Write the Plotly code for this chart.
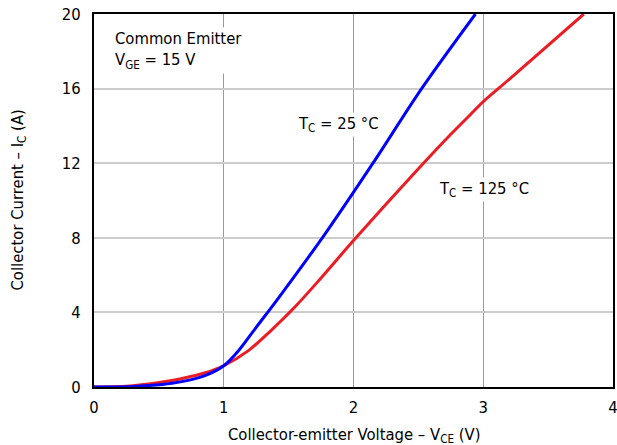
import plotly.graph_objects as go

# Data
vce_25 = [0, 0.3, 0.6, 0.85, 1.0, 1.12, 1.25, 1.43, 1.78, 2.15, 2.525, 2.94]
ic_25 = [0, 0.03, 0.2, 0.6, 1.14, 2.0, 3.2, 4.85, 8.2, 12.0, 16.0, 20.0]

vce_125 = [0, 0.3, 0.6, 0.85, 1.0, 1.19, 1.36, 1.55, 1.75, 2.0, 2.5, 2.75, 2.9, 3.0, 3.2, 3.775]
ic_125 = [0, 0.07, 0.35, 0.75, 1.14, 1.95, 3.0, 4.3, 5.85, 7.85, 11.7, 13.55, 14.6, 15.3, 16.5, 20.0]

x_ticks = [0, 1, 2, 3, 4]
y_ticks = [0, 4, 8, 12, 16, 20]

FONT = "DejaVu Sans Condensed, Liberation Sans Narrow, Roboto, sans-serif"
FS = 16.5

fig = go.Figure()
fig.add_trace(go.Scatter(x=vce_125, y=ic_125, mode="lines",
                         line=dict(color="#ec1c24", width=3, shape="spline", smoothing=0.9), showlegend=False))
fig.add_trace(go.Scatter(x=vce_25, y=ic_25, mode="lines",
                         line=dict(color="#0000ff", width=3, shape="spline", smoothing=0.9), showlegend=False))

fig.update_layout(
    width=617, height=445,
    margin=dict(l=94, r=4, t=14, b=58),
    paper_bgcolor="white", plot_bgcolor="white",
    font=dict(family=FONT, size=FS, color="black"),
    xaxis=dict(range=[0, 4], tickvals=x_ticks, showgrid=True, gridcolor="#9a9a9a", gridwidth=1,
               zeroline=False, showline=True, linecolor="black", linewidth=2, mirror=True,
               ticks="outside", ticklen=4, tickcolor="rgba(0,0,0,0)", automargin=False,
               ticklabeloverflow="allow"),
    yaxis=dict(range=[0, 20], tickvals=y_ticks, showgrid=True, gridcolor="#cccccc", gridwidth=2,
               zeroline=False, showline=True, linecolor="black", linewidth=2, mirror=True,
               ticks="outside", ticklen=8, tickcolor="rgba(0,0,0,0)", automargin=False,
               ticklabeloverflow="allow"),
    annotations=[
        dict(x=0.5, y=0, xref="paper", yref="paper", yshift=-48, xanchor="center", yanchor="middle",
             text="Collector-emitter Voltage – V<sub>CE</sub> (V)", showarrow=False),
        dict(x=0, y=0.5, xref="paper", yref="paper", xshift=-76, xanchor="center", yanchor="middle",
             text="Collector Current – I<sub>C</sub> (A)", showarrow=False, textangle=-90),
        dict(x=0.146, y=19.3, xref="x", yref="y", xanchor="left", yanchor="top", align="left",
             text="Common Emitter<br>V<sub>GE</sub> = 15 V", showarrow=False, bgcolor="white"),
        dict(x=1.556, y=14.05, xref="x", yref="y", xanchor="left", yanchor="middle",
             text="T<sub>C</sub> = 25 °C", showarrow=False, bgcolor="white"),
        dict(x=2.643, y=10.57, xref="x", yref="y", xanchor="left", yanchor="middle",
             text="T<sub>C</sub> = 125 °C", showarrow=False, bgcolor="white"),
    ],
)

fig.write_html(
    "out.html",
    config={"displayModeBar": False},
    post_script="document.body.style.margin='0';document.documentElement.style.overflow='hidden';document.body.style.overflow='hidden';",
)
